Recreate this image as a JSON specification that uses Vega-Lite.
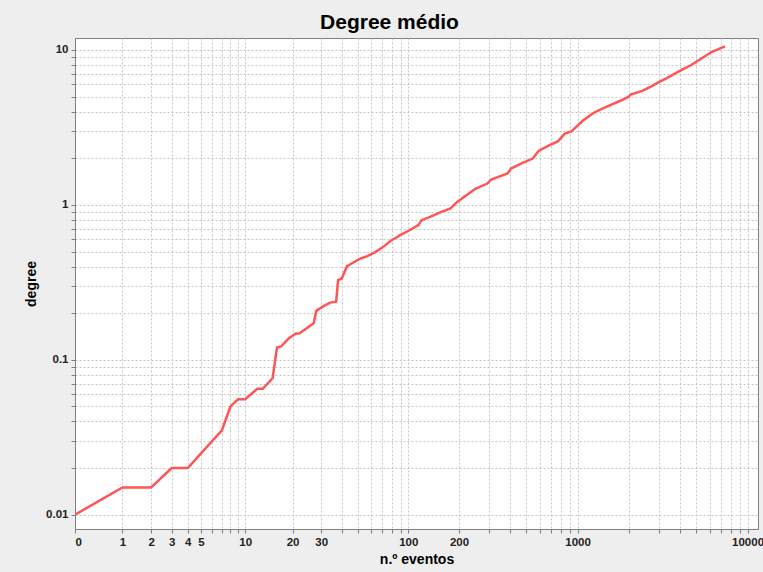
{
  "$schema": "https://vega.github.io/schema/vega-lite/v6.json",
  "width": 683,
  "height": 491,
  "autosize": {"type": "none"},
  "padding": {"left": 75, "top": 38, "right": 5, "bottom": 43},
  "background": "#eeeeee",
  "title": {
    "text": "Degree médio",
    "font": "Liberation Sans",
    "fontSize": 21,
    "fontWeight": "bold",
    "color": "#000000",
    "anchor": "middle",
    "dx": -27,
    "offset": 5
  },
  "config": {
    "view": {"stroke": "#808080", "strokeWidth": 1, "fill": "#ffffff"},
    "axis": {
      "labelFont": "Liberation Sans",
      "labelFontSize": 11.5,
      "labelFontWeight": "bold",
      "labelColor": "#222222",
      "titleFont": "Liberation Sans",
      "titleFontSize": 14,
      "titleFontWeight": "bold",
      "titleColor": "#000000",
      "domainColor": "#808080",
      "tickColor": "#808080",
      "tickSize": 4,
      "labelPadding": 3,
      "gridColor": "#c4c4c4",
      "gridDash": [2, 2],
      "gridWidth": 1
    }
  },
  "data": {
    "values": [
      {"eventos": 0, "degree": 0.01},
      {"eventos": 1, "degree": 0.015},
      {"eventos": 2, "degree": 0.015},
      {"eventos": 3, "degree": 0.02},
      {"eventos": 4, "degree": 0.02},
      {"eventos": 7, "degree": 0.035},
      {"eventos": 8, "degree": 0.05},
      {"eventos": 9, "degree": 0.0556},
      {"eventos": 10, "degree": 0.0556},
      {"eventos": 12, "degree": 0.065},
      {"eventos": 13, "degree": 0.065},
      {"eventos": 15, "degree": 0.076},
      {"eventos": 16, "degree": 0.12},
      {"eventos": 17, "degree": 0.122},
      {"eventos": 19, "degree": 0.138},
      {"eventos": 21, "degree": 0.148},
      {"eventos": 22, "degree": 0.148},
      {"eventos": 27, "degree": 0.172},
      {"eventos": 28, "degree": 0.207},
      {"eventos": 31, "degree": 0.222},
      {"eventos": 34, "degree": 0.234},
      {"eventos": 37, "degree": 0.237},
      {"eventos": 38, "degree": 0.327},
      {"eventos": 40, "degree": 0.335},
      {"eventos": 43, "degree": 0.402},
      {"eventos": 45, "degree": 0.414},
      {"eventos": 52, "degree": 0.451},
      {"eventos": 57, "degree": 0.467},
      {"eventos": 64, "degree": 0.498},
      {"eventos": 71, "degree": 0.536},
      {"eventos": 78, "degree": 0.583},
      {"eventos": 86, "degree": 0.621},
      {"eventos": 90, "degree": 0.64},
      {"eventos": 98, "degree": 0.671},
      {"eventos": 115, "degree": 0.74},
      {"eventos": 120, "degree": 0.797},
      {"eventos": 135, "degree": 0.837},
      {"eventos": 152, "degree": 0.888},
      {"eventos": 178, "degree": 0.948},
      {"eventos": 195, "degree": 1.045},
      {"eventos": 214, "degree": 1.126},
      {"eventos": 250, "degree": 1.27},
      {"eventos": 294, "degree": 1.374},
      {"eventos": 310, "degree": 1.458},
      {"eventos": 387, "degree": 1.594},
      {"eventos": 405, "degree": 1.717},
      {"eventos": 475, "degree": 1.866},
      {"eventos": 545, "degree": 1.992},
      {"eventos": 589, "degree": 2.23},
      {"eventos": 680, "degree": 2.42},
      {"eventos": 768, "degree": 2.58},
      {"eventos": 841, "degree": 2.888},
      {"eventos": 921, "degree": 2.98},
      {"eventos": 1000, "degree": 3.25},
      {"eventos": 1081, "degree": 3.52},
      {"eventos": 1180, "degree": 3.78},
      {"eventos": 1270, "degree": 3.98},
      {"eventos": 1420, "degree": 4.22},
      {"eventos": 1594, "degree": 4.46},
      {"eventos": 1800, "degree": 4.72},
      {"eventos": 2003, "degree": 5.0},
      {"eventos": 2051, "degree": 5.15},
      {"eventos": 2404, "degree": 5.45},
      {"eventos": 2700, "degree": 5.8},
      {"eventos": 3021, "degree": 6.22},
      {"eventos": 3313, "degree": 6.54},
      {"eventos": 3800, "degree": 7.11},
      {"eventos": 4159, "degree": 7.5},
      {"eventos": 4667, "degree": 8.0},
      {"eventos": 5300, "degree": 8.75},
      {"eventos": 6138, "degree": 9.7},
      {"eventos": 7366, "degree": 10.56}
    ]
  },
  "mark": {"type": "line", "color": "#ff5555", "strokeWidth": 2.5, "clip": true},
  "encoding": {
    "x": {
      "field": "eventos",
      "type": "quantitative",
      "scale": {"type": "symlog", "constant": 1.11, "domain": [0, 11520], "nice": false, "zero": false},
      "axis": {
        "title": "n.º eventos",
        "titlePadding": 5,
        "values": [0, 1, 2, 3, 4, 5, 6, 7, 8, 9, 10, 20, 30, 40, 50, 60, 70, 80, 90, 100, 200, 300, 400, 500, 600, 700, 800, 900, 1000, 2000, 3000, 4000, 5000, 6000, 7000, 8000, 9000, 10000],
        "format": "d",
        "labelExpr": "indexof([0,1,2,3,4,5,10,20,30,100,200,1000,10000], datum.value) >= 0 ? datum.label : ''",
        "labelOverlap": false
      }
    },
    "y": {
      "field": "degree",
      "type": "quantitative",
      "scale": {"type": "log", "domain": [0.00809, 11.95], "nice": false},
      "axis": {
        "title": "degree",
        "titlePadding": 7,
        "values": [0.01, 0.02, 0.03, 0.04, 0.05, 0.06, 0.07, 0.08, 0.09, 0.1, 0.2, 0.3, 0.4, 0.5, 0.6, 0.7, 0.8, 0.9, 1, 2, 3, 4, 5, 6, 7, 8, 9, 10],
        "format": "~g",
        "labelExpr": "(datum.value == 0.01 || datum.value == 0.1 || datum.value == 1 || datum.value == 10) ? datum.label : ''",
        "labelOverlap": false
      }
    }
  }
}
